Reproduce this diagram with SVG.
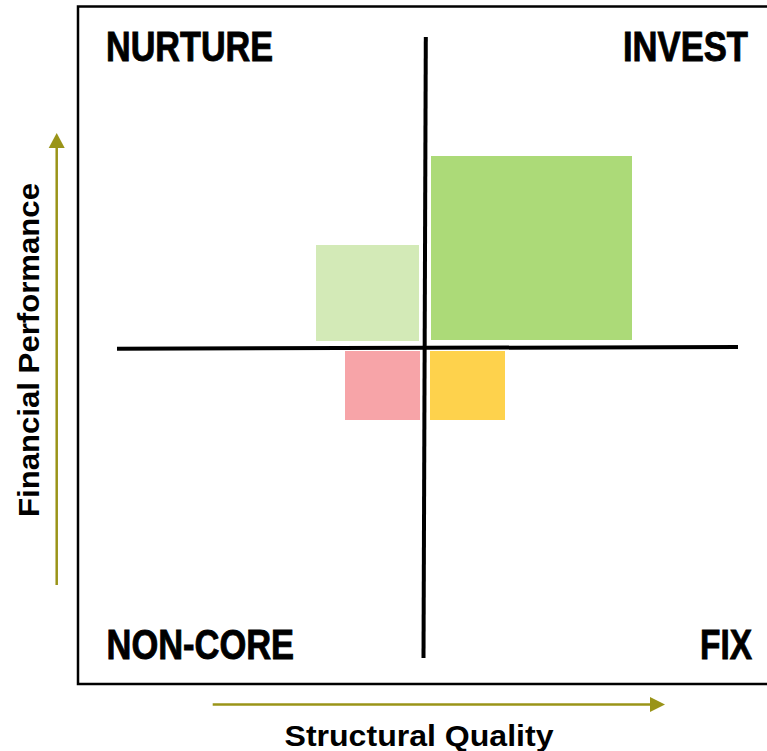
<svg xmlns="http://www.w3.org/2000/svg" width="767" height="751" viewBox="0 0 767 751">
  <style>
    .frame { fill: none; stroke: #000; stroke-width: 2.5; }
    .axis { stroke: #000; stroke-width: 4; stroke-linecap: butt; }
    .dir { stroke: #9a9418; stroke-width: 2.5; fill: none; }
    .head { fill: #9a9418; }
    .quad { font-family: "Liberation Sans", Arial, sans-serif; font-weight: bold; font-size: 42px; fill: #000; stroke: #000; stroke-width: 0.9; }
    .axlabel { font-family: "Liberation Sans", Arial, sans-serif; font-weight: bold; font-size: 30px; fill: #000; }
  </style>

  <rect width="767" height="751" fill="#fff"/>

  <!-- chart frame (open on the right) -->
  <path class="frame" d="M767,6.5 H78 V684 H767"/>

  <!-- portfolio blocks -->
  <g id="block-nurture"><rect x="316" y="245" width="103" height="96" fill="#d3eab7"/></g>
  <g id="block-invest"><rect x="431" y="156" width="201" height="184" fill="#acda78"/></g>
  <g id="block-noncore"><rect x="345" y="351" width="75" height="69" fill="#f7a4a8"/></g>
  <g id="block-fix"><rect x="430" y="351" width="75" height="69" fill="#fed24c"/></g>

  <!-- quadrant dividers and direction arrows -->
  <g id="connectors">
    <line class="axis" x1="117" y1="348.7" x2="738" y2="347"/>
    <line class="axis" x1="425.8" y1="37" x2="423.5" y2="658"/>

    <line class="dir" x1="56.7" y1="585" x2="56.7" y2="146"/>
    <polygon class="head" points="56.7,133 64.7,148 48.7,148"/>

    <line class="dir" x1="212.7" y1="704.5" x2="652" y2="704.5"/>
    <polygon class="head" points="665,704.5 650,697 650,712"/>
  </g>

  <!-- quadrant names, condensed horizontally -->
  <g id="label-nurture" transform="translate(106,61) scale(0.82,1)"><text class="quad" x="0" y="0" textLength="203.7" lengthAdjust="spacingAndGlyphs">NURTURE</text></g>
  <g id="label-invest" transform="translate(623,61) scale(0.82,1)"><text class="quad" x="0" y="0" textLength="152.4" lengthAdjust="spacingAndGlyphs">INVEST</text></g>
  <g id="label-noncore" transform="translate(106.5,659) scale(0.82,1)"><text class="quad" x="0" y="0" textLength="228.7" lengthAdjust="spacingAndGlyphs">NON-CORE</text></g>
  <g id="label-fix" transform="translate(700,659) scale(0.82,1)"><text class="quad" x="0" y="0" textLength="63.4" lengthAdjust="spacingAndGlyphs">FIX</text></g>

  <!-- axis titles -->
  <g id="title-y"><text class="axlabel" transform="translate(38.5,350) rotate(-90)" text-anchor="middle" textLength="334" lengthAdjust="spacingAndGlyphs">Financial Performance</text></g>
  <g id="title-x"><text class="axlabel" x="284.5" y="746" textLength="269" lengthAdjust="spacingAndGlyphs">Structural Quality</text></g>
</svg>
